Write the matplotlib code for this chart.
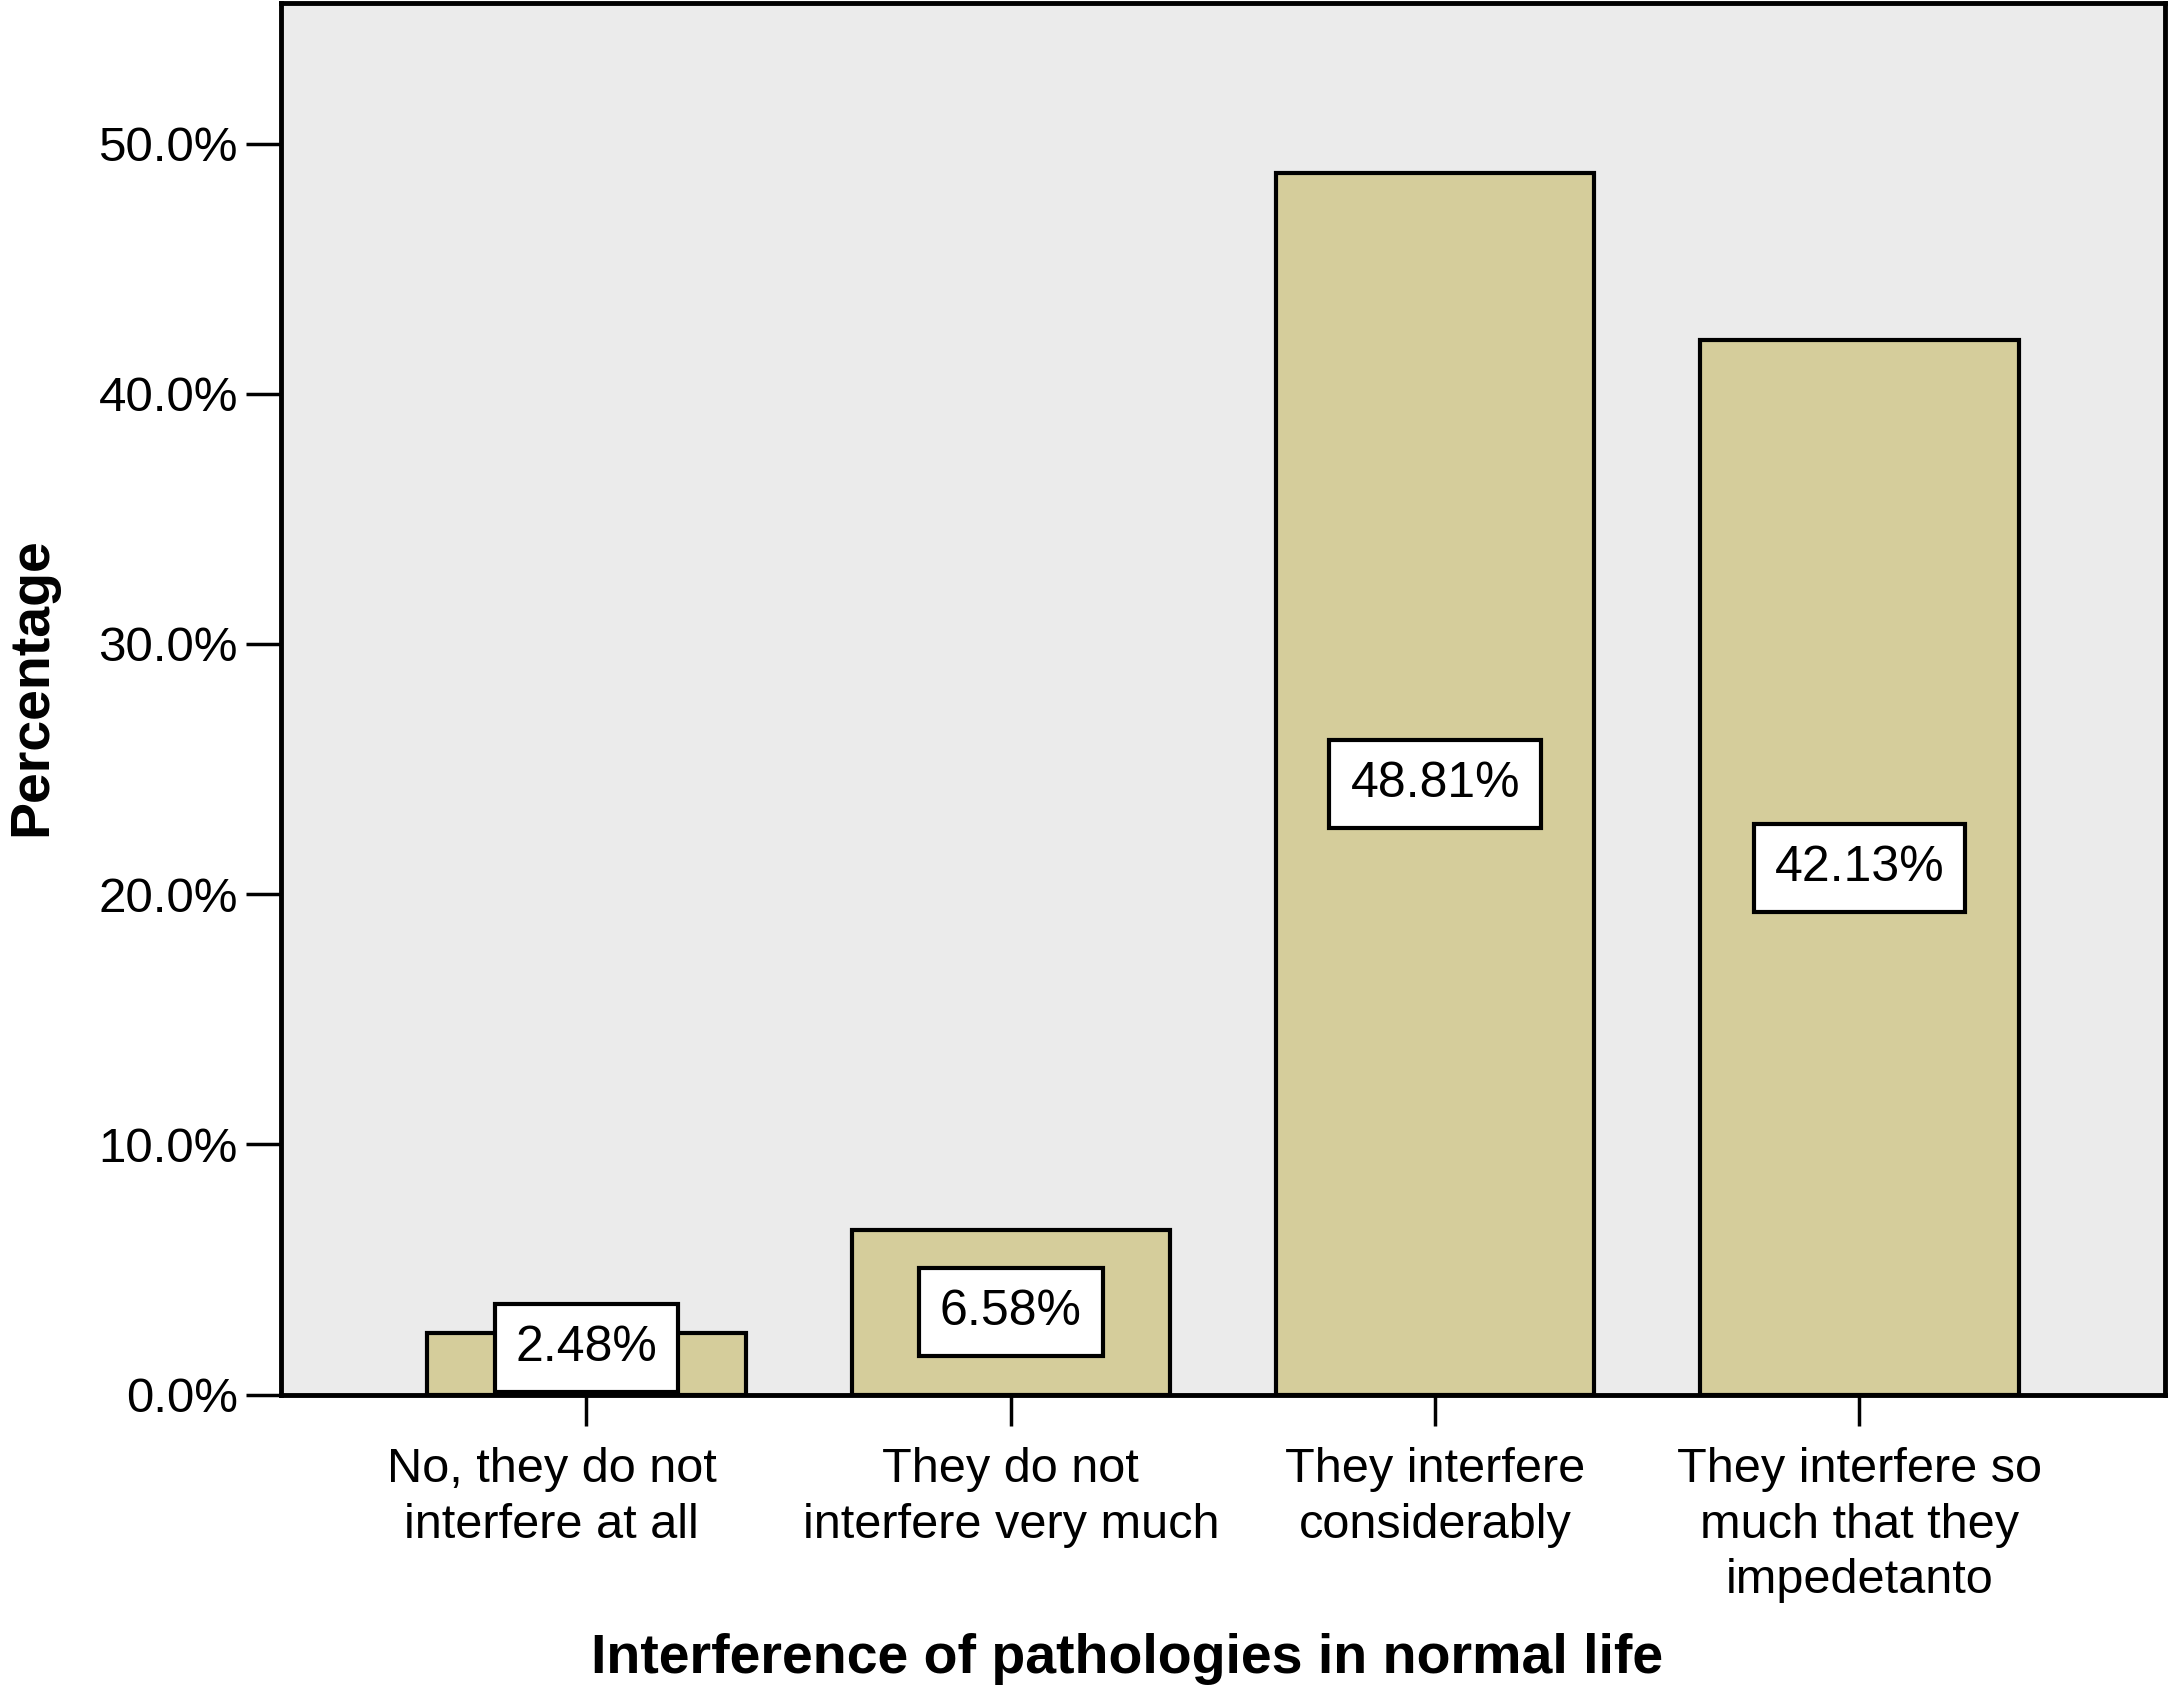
import matplotlib
matplotlib.use('Agg')
import matplotlib.pyplot as plt
import matplotlib.transforms as mtransforms
import numpy as np

# Data
categories = ['No, they do not\ninterfere at all',
              'They do not\ninterfere very much',
              'They interfere\nconsiderably',
              'They interfere so\nmuch that they\nimpedetanto']
percentages = [2.48, 6.58, 48.81, 42.13]
y_ticks = [0, 10, 20, 30, 40, 50]

plt.rcParams['font.family'] = ['Liberation Sans', 'DejaVu Sans']

fig = plt.figure(figsize=(21.68, 17.05), dpi=100)
ax = fig.add_axes([0.1296, 0.182, 0.869, 0.816])
ax.set_facecolor('#ebebeb')

x = np.arange(len(categories))
ax.bar(x, percentages, width=0.75, color='#d5cd9b', edgecolor='black', linewidth=3, zorder=2)

ax.set_xlim(-0.72, 3.72)
ax.set_ylim(0, 55.6)
ax.set_yticks(y_ticks)
ax.set_yticklabels(['%.1f%%' % v for v in y_ticks])
ax.set_xticks(x)
ax.set_xticklabels(categories, linespacing=1.3, va='top')

ax.tick_params(axis='y', length=25, width=2.5, labelsize=35.5, pad=6)
ax.tick_params(axis='x', length=22, width=2.5, labelsize=35, pad=16)
for s in ax.spines.values():
    s.set_linewidth(3.5)

# first label sits a little left of its tick in the original
lab0 = ax.get_xticklabels()[0]
lab0.set_transform(lab0.get_transform() + mtransforms.ScaledTranslation(-25 / 72, 0, fig.dpi_scale_trans))

# Value labels in white boxes, centred on bar half height
for xi, v in zip(x, percentages):
    yc = max(v / 2, 1.85)
    ax.text(xi, yc, '%.2f%%' % v, ha='center', va='center', fontsize=36, zorder=3,
            bbox=dict(boxstyle='square,pad=0.42', facecolor='white', edgecolor='black', linewidth=3))

fig.text(0.52, 0.027, 'Interference of pathologies in normal life', ha='center', va='center',
         fontsize=40, fontweight='bold')
fig.text(0.015, 0.597, 'Percentage', ha='center', va='center', rotation=90,
         fontsize=40, fontweight='bold')

fig.savefig('out.png', dpi=100)
